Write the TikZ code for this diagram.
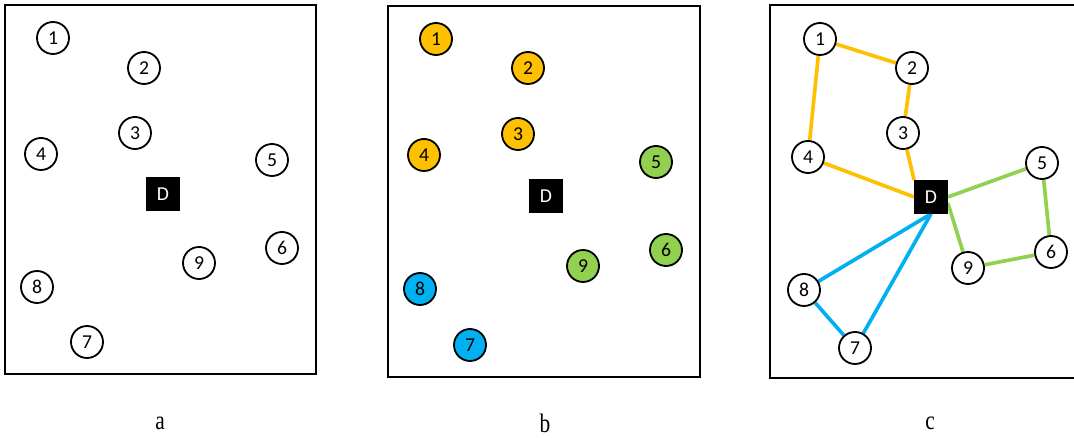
\documentclass[tikz,border=0pt]{standalone}
\usepackage{fontspec}
\setmainfont{Liberation Serif}
\newfontfamily\numfont{Carlito}
\usetikzlibrary{positioning, calc, backgrounds}
\definecolor{sgold}{HTML}{FFC000}
\definecolor{sgreen}{HTML}{92D050}
\definecolor{sblue}{HTML}{00B0F0}

\begin{document}
\begin{tikzpicture}[x=0.025cm, y=-0.025cm,
        sensor/.style = {circle, draw, line width=1.3pt, fill=white, minimum size=0.8cm, inner sep=0pt, font=\numfont\fontsize{14}{15}\selectfont},
        sink/.style = {rectangle, fill=black, minimum size=0.83cm, inner sep=0pt, text=white, font=\numfont\fontsize{14}{15}\selectfont},
        panel/.style = {draw, line width=1.5pt},
        link/.style = {line width=2.6pt},
        caption/.style = {font=\fontsize{19}{21}\selectfont, xscale=0.8, transform shape}]
            \clip (0,0) rectangle (1074,438);
            % panel a
            \draw[panel] (5,5) rectangle (316,374);
            \node[sink] (aD) at (163,194) {D};
            \node[sensor] (a1) at (53,38) {1};
            \node[sensor] (a2) at (144,68) {2};
            \node[sensor] (a3) at (135,133) {3};
            \node[sensor] (a4) at (41,154) {4};
            \node[sensor] (a5) at (272,160) {5};
            \node[sensor] (a6) at (282,248) {6};
            \node[sensor] (a7) at (87,342) {7};
            \node[sensor] (a8) at (37,287) {8};
            \node[sensor] (a9) at (199,263) {9};
            % panel b
            \draw[panel] (388,6) rectangle (700,377);
            \node[sink] (bD) at (546,196) {D};
            \node[sensor, fill=sgold] (b1) at (436,39) {1};
            \node[sensor, fill=sgold] (b2) at (528,68) {2};
            \node[sensor, fill=sgold] (b3) at (518,134) {3};
            \node[sensor, fill=sgold] (b4) at (424,155) {4};
            \node[sensor, fill=sgreen] (b5) at (656,162) {5};
            \node[sensor, fill=sgreen] (b6) at (666,250) {6};
            \node[sensor, fill=sblue] (b7) at (470,345) {7};
            \node[sensor, fill=sblue] (b8) at (420,289) {8};
            \node[sensor, fill=sgreen] (b9) at (583,266) {9};
            % panel c
            \draw[panel] (770,5) rectangle (1090,378);
            \node[sink] (cD) at (931,197) {D};
            \node[sensor] (c1) at (820,39) {1};
            \node[sensor] (c2) at (912,68) {2};
            \node[sensor] (c3) at (903,133) {3};
            \node[sensor] (c4) at (808,157) {4};
            \node[sensor] (c5) at (1042,163) {5};
            \node[sensor] (c6) at (1051,252) {6};
            \node[sensor] (c7) at (855,348) {7};
            \node[sensor] (c8) at (804,290) {8};
            \node[sensor] (c9) at (968,268) {9};
            \begin{scope}[on background layer]
            \draw[link, sgold] (cD.135) -- (c3) -- (c2) -- (c1) -- (c4) -- (cD.west);
            \draw[link, sgreen] (cD.east) -- (c5) -- (c6) -- (c9) -- (cD.-20);
            \draw[link, sblue] (cD.south) -- (c8) -- (c7) -- (cD.south);
            \end{scope}
            % captions
            \node[caption] (capa) at (160,423) {a};
            \node[caption] (capb) at (545,423) {b};
            \node[caption] (capc) at (930,423) {c};
        \end{tikzpicture}
\end{document}
